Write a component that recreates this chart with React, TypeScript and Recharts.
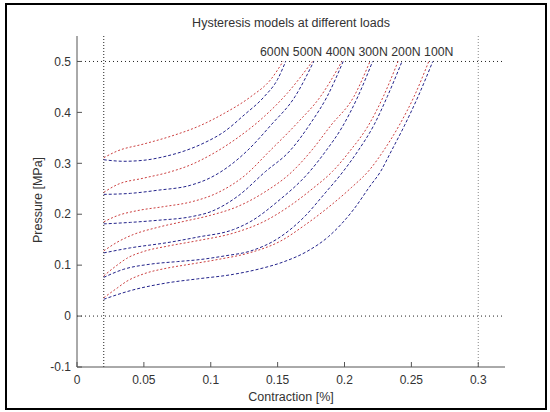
import { LineChart, Line, XAxis, YAxis, ReferenceLine } from "recharts";

type Pt = { x: number; y: number };

const loadLabels = ["600N", "500N", "400N", "300N", "200N", "100N"];
const xTicks = [0, 0.05, 0.1, 0.15, 0.2, 0.25, 0.3];
const yTicks = [-0.1, 0, 0.1, 0.2, 0.3, 0.4, 0.5];

// red = loading branch, blue = unloading branch
const red600: Pt[] = [
  { x: 0.02, y: 0.311 }, { x: 0.03, y: 0.324 }, { x: 0.05, y: 0.338 }, { x: 0.07, y: 0.353 },
  { x: 0.092, y: 0.374 }, { x: 0.11, y: 0.398 }, { x: 0.13, y: 0.431 }, { x: 0.145, y: 0.465 },
  { x: 0.154, y: 0.5 },
];
const blue600: Pt[] = [
  { x: 0.02, y: 0.307 }, { x: 0.035, y: 0.304 }, { x: 0.05, y: 0.306 }, { x: 0.065, y: 0.313 },
  { x: 0.08, y: 0.324 }, { x: 0.095, y: 0.34 }, { x: 0.11, y: 0.362 }, { x: 0.125, y: 0.395 },
  { x: 0.14, y: 0.431 }, { x: 0.15, y: 0.465 }, { x: 0.156, y: 0.5 },
];
const red500: Pt[] = [
  { x: 0.02, y: 0.243 }, { x: 0.03, y: 0.258 }, { x: 0.05, y: 0.271 }, { x: 0.068, y: 0.282 },
  { x: 0.085, y: 0.297 }, { x: 0.101, y: 0.318 }, { x: 0.12, y: 0.35 }, { x: 0.14, y: 0.392 },
  { x: 0.157, y: 0.437 }, { x: 0.176, y: 0.5 },
];
const blue500: Pt[] = [
  { x: 0.02, y: 0.239 }, { x: 0.04, y: 0.241 }, { x: 0.06, y: 0.247 }, { x: 0.085, y: 0.257 },
  { x: 0.1, y: 0.272 }, { x: 0.115, y: 0.297 }, { x: 0.127, y: 0.324 }, { x: 0.145, y: 0.375 },
  { x: 0.163, y: 0.431 }, { x: 0.177, y: 0.5 },
];
const red400: Pt[] = [
  { x: 0.02, y: 0.185 }, { x: 0.03, y: 0.197 }, { x: 0.045, y: 0.207 }, { x: 0.065, y: 0.215 },
  { x: 0.085, y: 0.224 }, { x: 0.105, y: 0.242 }, { x: 0.125, y: 0.275 }, { x: 0.144, y: 0.324 },
  { x: 0.165, y: 0.38 }, { x: 0.182, y: 0.431 }, { x: 0.198, y: 0.5 },
];
const blue400: Pt[] = [
  { x: 0.02, y: 0.181 }, { x: 0.04, y: 0.184 }, { x: 0.06, y: 0.188 }, { x: 0.085, y: 0.195 },
  { x: 0.1, y: 0.205 }, { x: 0.12, y: 0.235 }, { x: 0.141, y: 0.284 }, { x: 0.159, y: 0.324 },
  { x: 0.175, y: 0.38 }, { x: 0.187, y: 0.431 }, { x: 0.199, y: 0.5 },
];
const red300: Pt[] = [
  { x: 0.02, y: 0.128 }, { x: 0.03, y: 0.145 }, { x: 0.042, y: 0.16 }, { x: 0.06, y: 0.174 },
  { x: 0.08, y: 0.186 }, { x: 0.1, y: 0.198 }, { x: 0.12, y: 0.215 }, { x: 0.14, y: 0.243 },
  { x: 0.161, y: 0.284 }, { x: 0.175, y: 0.324 }, { x: 0.19, y: 0.375 }, { x: 0.207, y: 0.431 },
  { x: 0.219, y: 0.5 },
];
const blue300: Pt[] = [
  { x: 0.02, y: 0.124 }, { x: 0.04, y: 0.134 }, { x: 0.067, y: 0.144 }, { x: 0.09, y: 0.155 },
  { x: 0.117, y: 0.17 }, { x: 0.13, y: 0.186 }, { x: 0.15, y: 0.225 }, { x: 0.174, y: 0.284 },
  { x: 0.186, y: 0.324 }, { x: 0.198, y: 0.37 }, { x: 0.21, y: 0.431 }, { x: 0.221, y: 0.5 },
];
const red200: Pt[] = [
  { x: 0.02, y: 0.079 }, { x: 0.03, y: 0.1 }, { x: 0.037, y: 0.113 }, { x: 0.05, y: 0.127 },
  { x: 0.067, y: 0.137 }, { x: 0.09, y: 0.148 }, { x: 0.117, y: 0.163 }, { x: 0.14, y: 0.186 },
  { x: 0.16, y: 0.218 }, { x: 0.176, y: 0.25 }, { x: 0.191, y: 0.284 }, { x: 0.204, y: 0.324 },
  { x: 0.218, y: 0.375 }, { x: 0.229, y: 0.431 }, { x: 0.24, y: 0.5 },
];
const blue200: Pt[] = [
  { x: 0.02, y: 0.076 }, { x: 0.035, y: 0.092 }, { x: 0.055, y: 0.102 }, { x: 0.075, y: 0.107 },
  { x: 0.092, y: 0.111 }, { x: 0.11, y: 0.118 }, { x: 0.13, y: 0.128 }, { x: 0.15, y: 0.152 },
  { x: 0.17, y: 0.195 }, { x: 0.185, y: 0.24 }, { x: 0.199, y: 0.284 }, { x: 0.21, y: 0.324 },
  { x: 0.222, y: 0.375 }, { x: 0.232, y: 0.431 }, { x: 0.243, y: 0.5 },
];
const red100: Pt[] = [
  { x: 0.02, y: 0.036 }, { x: 0.03, y: 0.055 }, { x: 0.037, y: 0.068 }, { x: 0.05, y: 0.083 },
  { x: 0.067, y: 0.094 }, { x: 0.085, y: 0.102 }, { x: 0.105, y: 0.111 }, { x: 0.13, y: 0.125 },
  { x: 0.152, y: 0.147 }, { x: 0.17, y: 0.178 }, { x: 0.19, y: 0.218 }, { x: 0.205, y: 0.252 },
  { x: 0.219, y: 0.288 }, { x: 0.229, y: 0.324 }, { x: 0.241, y: 0.375 }, { x: 0.252, y: 0.431 },
  { x: 0.263, y: 0.5 },
];
const blue100: Pt[] = [
  { x: 0.02, y: 0.033 }, { x: 0.04, y: 0.05 }, { x: 0.067, y: 0.065 }, { x: 0.09, y: 0.073 },
  { x: 0.117, y: 0.082 }, { x: 0.137, y: 0.093 }, { x: 0.155, y: 0.107 }, { x: 0.172, y: 0.127 },
  { x: 0.188, y: 0.156 }, { x: 0.207, y: 0.21 }, { x: 0.219, y: 0.255 }, { x: 0.227, y: 0.284 },
  { x: 0.235, y: 0.324 }, { x: 0.245, y: 0.375 }, { x: 0.255, y: 0.431 }, { x: 0.266, y: 0.5 },
];

const curves = [
  { load: "600N", red: red600, blue: blue600 },
  { load: "500N", red: red500, blue: blue500 },
  { load: "400N", red: red400, blue: blue400 },
  { load: "300N", red: red300, blue: blue300 },
  { load: "200N", red: red200, blue: blue200 },
  { load: "100N", red: red100, blue: blue100 },
];

const font = '"Liberation Sans", Arial, Helvetica, sans-serif';
const textColor = "#333";

export default function App() {
  return (
    <div style={{ position: "relative", width: 550, height: 412, background: "#fff", fontFamily: font }}>
      <style>{`body { margin: 0; }`}</style>
      <LineChart width={550} height={412} margin={{ top: 36, right: 45, bottom: 15, left: 37 }}>
        <XAxis
          type="number"
          dataKey="x"
          domain={[0, 0.32]}
          ticks={xTicks}
          allowDataOverflow
          height={30}
          tickSize={-5}
          tickMargin={13}
          stroke="#555"
          tick={{ fill: textColor, fontSize: 12, fontFamily: font }}
        />
        <YAxis
          type="number"
          domain={[-0.1, 0.55]}
          ticks={yTicks}
          allowDataOverflow
          width={40}
          tickSize={-5}
          tickMargin={11}
          stroke="#555"
          tick={{ fill: textColor, fontSize: 12, fontFamily: font }}
        />
        <ReferenceLine y={0.5} stroke="#222" strokeDasharray="1 3" />
        <ReferenceLine y={0} stroke="#222" strokeDasharray="1 3" />
        <ReferenceLine x={0.02} stroke="#222" strokeDasharray="1 2" />
        <ReferenceLine x={0.3} stroke="#888" strokeDasharray="1 2" />
        {curves.map((c) => (
          <Line
            key={"r" + c.load}
            data={c.red}
            dataKey="y"
            type="monotone"
            stroke="#cc4040"
            strokeWidth={1}
            strokeDasharray="2 2"
            dot={false}
            isAnimationActive={false}
          />
        ))}
        {curves.map((c) => (
          <Line
            key={"b" + c.load}
            data={c.blue}
            dataKey="y"
            type="monotone"
            stroke="#22228a"
            strokeWidth={1}
            strokeDasharray="3 2"
            dot={false}
            isAnimationActive={false}
          />
        ))}
      </LineChart>

      <div style={{ position: "absolute", left: 291, top: 23, transform: "translate(-50%, -50%)", fontSize: 12.5, color: textColor, whiteSpace: "nowrap" }}>
        Hysteresis models at different loads
      </div>
      <div style={{ position: "absolute", left: 260, top: 52, transform: "translateY(-50%)", fontSize: 12.3, color: textColor, whiteSpace: "nowrap" }}>
        {loadLabels.join(" ")}
      </div>
      <div style={{ position: "absolute", left: 291, top: 397, transform: "translate(-50%, -50%)", fontSize: 12.5, color: textColor, whiteSpace: "nowrap" }}>
        Contraction [%]
      </div>
      <div style={{ position: "absolute", left: 38, top: 200, transform: "translate(-50%, -50%) rotate(-90deg)", fontSize: 12.5, color: textColor, whiteSpace: "nowrap" }}>
        Pressure [MPa]
      </div>
      <div style={{ position: "absolute", left: 5, top: 3, width: 542, height: 407, border: "2px solid #000", boxSizing: "border-box", pointerEvents: "none" }} />
    </div>
  );
}
